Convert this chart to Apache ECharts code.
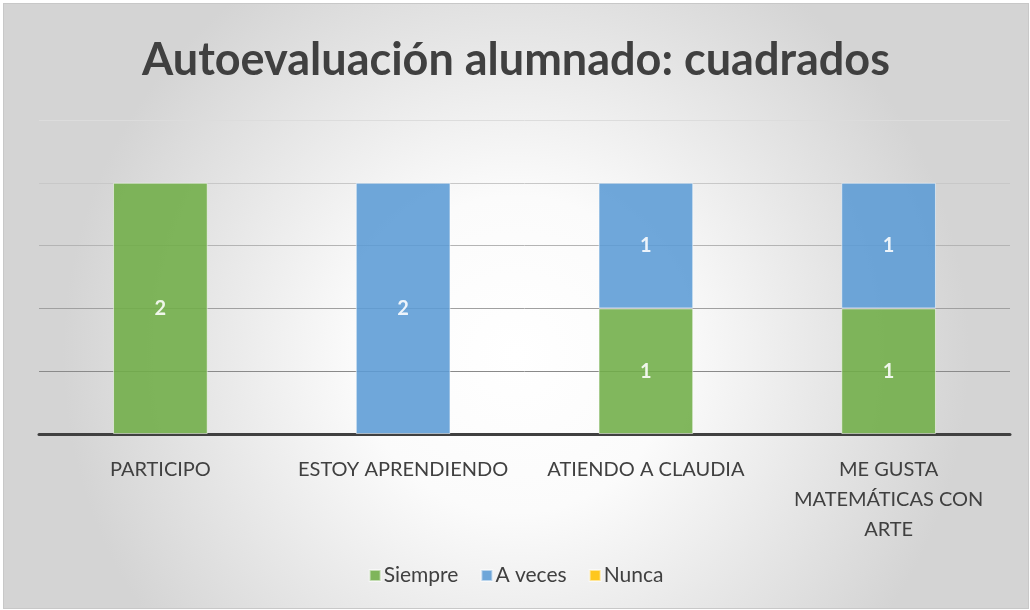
<!DOCTYPE html>
<html><head><meta charset="utf-8">
<script src="https://cdn.jsdelivr.net/npm/echarts@6/dist/echarts.min.js"></script>
<style>
html,body{margin:0;padding:0;background:#fff;}
#c{position:absolute;left:3px;top:3px;width:1026px;height:606px;border:1px solid #c8c8c8;box-sizing:border-box;}
</style></head>
<body><div id="c"></div>
<script>
const categories = ['PARTICIPO', 'ESTOY APRENDIENDO', 'ATIENDO A CLAUDIA', 'ME GUSTA MATEMÁTICAS CON ARTE'];
const siempre = [2, 0, 1, 1];
const aVeces = [0, 2, 1, 1];
const nunca = [0, 0, 0, 0];
const seriesNames = ['Siempre', 'A veces', 'Nunca'];
const colors = ['#70AD47', '#5B9BD5', '#FFC000'];

function wrap(s, max) {
  const words = s.split(' '); const lines = []; let cur = '';
  words.forEach(w => {
    if (!cur) cur = w;
    else if ((cur + ' ' + w).length <= max) cur += ' ' + w;
    else { lines.push(cur); cur = w; }
  });
  if (cur) lines.push(cur);
  return lines.join('\n');
}

const chart = echarts.init(document.getElementById('c'));
const font = 'Lato, "Open Sans", sans-serif';
const dataSets = [siempre, aVeces, nunca];
chart.setOption({
  backgroundColor: {type:'radial', x:0.5, y:0.58, r:0.75,
    colorStops:[{offset:0,color:'#ffffff'},{offset:0.35,color:'#fbfbfb'},{offset:1,color:'#d4d4d4'}]},
  animation:false,
  color: colors,
  title: {text:'Autoevaluación alumnado: cuadrados', left:'center', top:29,
    textStyle:{fontFamily:font, fontWeight:'bold', fontSize:45, color:'#404040'}},
  legend: {bottom:17, left:'center', itemWidth:11, itemHeight:11, itemGap:22,
    icon:'rect', data:seriesNames,
    textStyle:{fontFamily:font, fontSize:21, color:'#404040', padding:[0,0,0,-2]}},
  grid: {left:35, right:18, top:116, bottom:174},
  xAxis: {type:'category', data:categories,
    axisLine:{lineStyle:{color:'#404040', width:3}},
    axisTick:{show:false},
    axisLabel:{fontFamily:font, fontSize:20, color:'#404040', margin:21, lineHeight:30,
      interval:0, formatter:v => wrap(v, 17)}},
  yAxis: {type:'value', min:0, max:2.5, interval:0.5,
    axisLabel:{show:false}, axisLine:{show:false}, axisTick:{show:false},
    splitLine:{lineStyle:{color:['#999','#8a8a8a','#a0a0a0','#b4b4b4','#c8c8c8','#dcdcdc'], width:1}}},
  series: dataSets.map((d, i) => ({
    name: seriesNames[i], type:'bar', stack:'total', barWidth:'39%', z:1,
    data: d.map(v => v === 0 ? null : v),
    itemStyle:{opacity:0.88, borderColor:'rgba(255,255,255,0.6)', borderWidth:1},
    label:{show:true, position:'inside', color:'#fff', fontFamily:font, fontWeight:'bold', fontSize:20,
      formatter:p => p.value ? String(p.value) : ''}
  }))
});
</script></body></html>
